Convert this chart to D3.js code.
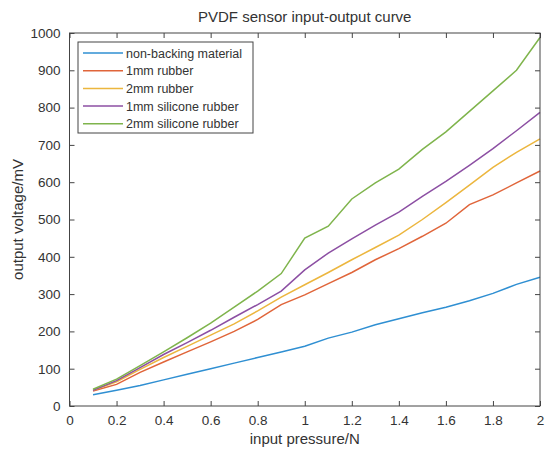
<!DOCTYPE html>
<html>
<head>
<meta charset="utf-8">
<script src="https://cdn.jsdelivr.net/npm/d3@7"></script>
<style>
  body { margin: 0; background: #fff; }
  text { font-family: "Liberation Sans", Arial, sans-serif; fill: #333; }
</style>
</head>
<body>
<svg id="chart"></svg>
<script>
var width = 545;
var height = 452;

// pressure steps (N)
var pressure = [0.1, 0.2, 0.3, 0.4, 0.5, 0.6, 0.7, 0.8, 0.9, 1.0,
                1.1, 1.2, 1.3, 1.4, 1.5, 1.6, 1.7, 1.8, 1.9, 2.0];

var seriesNames = ["non-backing material", "1mm rubber", "2mm rubber",
                   "1mm silicone rubber", "2mm silicone rubber"];
var seriesColors = ["#2f8fd2", "#e0653a", "#ecb63e", "#8c4fa3", "#7fb44c"];

// output voltage (mV)
var nonBacking = [30, 42, 55, 70, 85, 100, 115, 130, 145, 160,
                  182, 198, 218, 234, 250, 265, 282, 302, 326, 345];
var rubber1 = [40, 58, 90, 118, 145, 172, 200, 232, 272, 298,
               328, 358, 392, 422, 455, 490, 540, 566, 598, 630];
var rubber2 = [42, 65, 98, 130, 160, 190, 220, 255, 292, 325,
               358, 392, 425, 458, 500, 545, 592, 640, 680, 716];
var silicone1 = [42, 68, 103, 138, 170, 203, 238, 272, 308, 365,
                 410, 448, 485, 520, 562, 602, 645, 690, 738, 787];
var silicone2 = [45, 72, 108, 145, 183, 222, 265, 308, 355, 450,
                 482, 555, 598, 635, 688, 735, 790, 845, 900, 988];

var allSeries = [nonBacking, rubber1, rubber2, silicone1, silicone2];

var xTicks = [0, 0.2, 0.4, 0.6, 0.8, 1, 1.2, 1.4, 1.6, 1.8, 2];
var yTicks = [0, 100, 200, 300, 400, 500, 600, 700, 800, 900, 1000];

var margin = {top: 33, right: 5, bottom: 46, left: 69.5};
var plotW = width - margin.left - margin.right;
var plotH = height - margin.top - margin.bottom;

var svg = d3.select("#chart").attr("width", width).attr("height", height);

var x = d3.scaleLinear().domain([0, 2]).range([0, plotW]);
var y = d3.scaleLinear().domain([0, 1000]).range([plotH, 0]);

var g = svg.append("g").attr("transform", "translate(" + margin.left + "," + margin.top + ")");

// lines
var line = d3.line()
    .x(function (d, i) { return x(pressure[i]); })
    .y(function (d) { return y(d); });

g.selectAll("path.series")
    .data(allSeries)
    .enter().append("path")
    .attr("class", "series")
    .attr("fill", "none")
    .attr("stroke", function (d, i) { return seriesColors[i]; })
    .attr("stroke-width", 1.5)
    .attr("d", line);

// axes, MATLAB style: inward ticks on all four sides
var axisColor = "#444";
function styleAxis(sel) {
    sel.select(".domain").remove();
    sel.selectAll(".tick line").attr("stroke", axisColor);
    sel.selectAll(".tick text").style("font-size", "13.5px").attr("fill", "#333");
}

g.append("g")
    .attr("transform", "translate(0," + plotH + ")")
    .call(d3.axisBottom(x).tickValues(xTicks).tickSizeInner(-5).tickPadding(9)
        .tickFormat(function (d) { return String(d); }))
    .call(styleAxis);

g.append("g")
    .call(d3.axisTop(x).tickValues(xTicks).tickSizeInner(-5).tickFormat(""))
    .call(styleAxis);

g.append("g")
    .call(d3.axisLeft(y).tickValues(yTicks).tickSizeInner(-5).tickPadding(9)
        .tickFormat(d3.format("d")))
    .call(styleAxis);

g.append("g")
    .attr("transform", "translate(" + plotW + ",0)")
    .call(d3.axisRight(y).tickValues(yTicks).tickSizeInner(-5).tickFormat(""))
    .call(styleAxis);

g.append("rect")
    .attr("width", plotW)
    .attr("height", plotH)
    .attr("fill", "none")
    .attr("stroke", axisColor)
    .attr("stroke-width", 1);

// title and axis labels
svg.append("text")
    .attr("x", margin.left + plotW / 2)
    .attr("y", 22)
    .attr("text-anchor", "middle")
    .style("font-size", "15px")
    .attr("fill", "#222")
    .text("PVDF sensor input-output curve");

svg.append("text")
    .attr("x", margin.left + plotW / 2)
    .attr("y", 444)
    .attr("text-anchor", "middle")
    .style("font-size", "15px")
    .text("input pressure/N");

svg.append("text")
    .attr("transform", "translate(23," + (margin.top + plotH / 2) + ") rotate(-90)")
    .attr("text-anchor", "middle")
    .style("font-size", "15px")
    .text("output voltage/mV");

// legend
var legend = g.append("g").attr("transform", "translate(8.5,9)");
legend.append("rect")
    .attr("width", 175)
    .attr("height", 91)
    .attr("fill", "#fff")
    .attr("stroke", axisColor);

var item = legend.selectAll("g.item")
    .data(seriesNames)
    .enter().append("g")
    .attr("class", "item")
    .attr("transform", function (d, i) { return "translate(0," + (11 + i * 17.7) + ")"; });

item.append("line")
    .attr("x1", 5).attr("x2", 45)
    .attr("y1", 0).attr("y2", 0)
    .attr("stroke", function (d, i) { return seriesColors[i]; })
    .attr("stroke-width", 1.5);

item.append("text")
    .attr("x", 48)
    .attr("y", 4.5)
    .style("font-size", "12.5px")
    .attr("fill", "#222")
    .text(function (d) { return d; });
</script>
</body>
</html>
